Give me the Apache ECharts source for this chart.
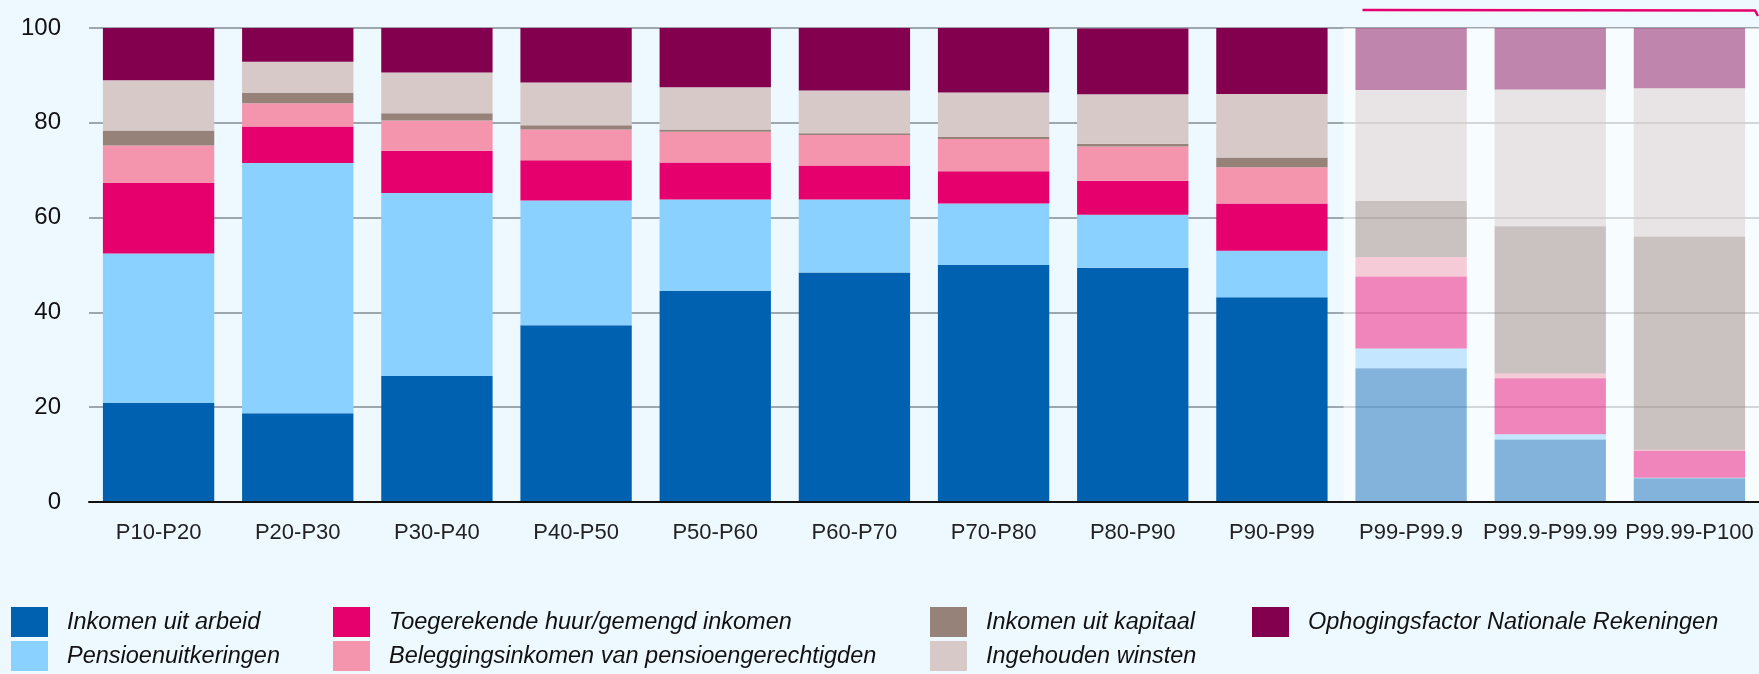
<!DOCTYPE html>
<html>
<head>
<meta charset="utf-8">
<script src="https://cdn.jsdelivr.net/npm/echarts@6/dist/echarts.min.js"></script>
<style>
  html, body { margin: 0; padding: 0; background: #eef8ff; }
  #chart { width: 1759px; height: 674px; }
</style>
</head>
<body>
<div id="chart"></div>
<script>
// categorieen (percentielgroepen)
var categories = ['P10-P20', 'P20-P30', 'P30-P40', 'P40-P50', 'P50-P60', 'P60-P70',
    'P70-P80', 'P80-P90', 'P90-P99', 'P99-P99.9', 'P99.9-P99.99', 'P99.99-P100'];

// aandelen in procenten, van onder naar boven gestapeld
var arbeid = [20.9, 18.7, 26.6, 37.3, 44.5, 48.4, 50.0, 49.4, 43.2, 28.2, 13.2, 5.0];
var pensioen = [31.5, 52.8, 38.6, 26.3, 19.3, 15.4, 13.0, 11.2, 9.8, 4.2, 1.1, 0.1];
var huur = [14.9, 7.7, 8.9, 8.5, 7.8, 7.2, 6.8, 7.2, 10.0, 15.2, 11.8, 5.7];
var belegging = [7.9, 4.9, 6.4, 6.5, 6.5, 6.4, 6.8, 7.2, 7.6, 4.1, 1.0, 0.2];
var kapitaal = [3.2, 2.2, 1.5, 0.9, 0.5, 0.4, 0.4, 0.6, 2.1, 11.8, 31.1, 45.0];
var winsten = [10.6, 6.6, 8.6, 9.0, 8.9, 9.0, 9.4, 10.4, 13.4, 23.4, 28.8, 31.3];
var ophoging = [11.0, 7.3, 9.5, 11.5, 12.6, 13.2, 13.7, 13.9, 13.9, 13.2, 13.0, 12.8];

var yTicks = [0, 20, 40, 60, 80, 100];

// de laatste drie groepen worden lichter getoond
var highlighted = ['P99-P99.9', 'P99.9-P99.99', 'P99.99-P100'];

var seriesDefs = [
    { name: 'Inkomen uit arbeid', data: arbeid, color: '#0061b0' },
    { name: 'Pensioenuitkeringen', data: pensioen, color: '#8bd1ff' },
    { name: 'Toegerekende huur/gemengd inkomen', data: huur, color: '#e6006e' },
    { name: 'Beleggingsinkomen van pensioengerechtigden', data: belegging, color: '#f495ad' },
    { name: 'Inkomen uit kapitaal', data: kapitaal, color: '#968279' },
    { name: 'Ingehouden winsten', data: winsten, color: '#d7c9c7' },
    { name: 'Ophogingsfactor Nationale Rekeningen', data: ophoging, color: '#82004e' }
];

var FONT = '"Liberation Sans", Arial, sans-serif';

var chart = echarts.init(document.getElementById('chart'), null, { renderer: 'canvas' });

var series = seriesDefs.map(function (s) {
    return {
        name: s.name,
        type: 'bar',
        stack: 'totaal',
        barCategoryGap: '20%',
        itemStyle: { color: s.color },
        emphasis: { disabled: true },
        data: s.data.map(function (v, i) {
            if (highlighted.indexOf(categories[i]) >= 0) {
                return { value: v, itemStyle: { opacity: 0.47 } };
            }
            return v;
        })
    };
});

function legendColumn(left, names) {
    return {
        orient: 'vertical',
        left: left,
        top: 607,
        padding: 0,
        height: 70,
        itemWidth: 37,
        itemHeight: 30,
        itemGap: 4,
        icon: 'rect',
        selectedMode: false,
        data: names,
        textStyle: {
            fontFamily: FONT,
            fontStyle: 'italic',
            fontSize: 23.5,
            color: '#111',
            padding: [5, 0, 0, 14]
        }
    };
}

var options = {
    backgroundColor: '#eef8ff',
    animation: false,
    grid: {
        left: 89,
        right: 0,
        top: 28,
        bottom: 172
    },
    legend: [
        legendColumn(11, [seriesDefs[0].name, seriesDefs[1].name]),
        legendColumn(333, [seriesDefs[2].name, seriesDefs[3].name]),
        legendColumn(930, [seriesDefs[4].name, seriesDefs[5].name]),
        legendColumn(1252, [seriesDefs[6].name])
    ],
    xAxis: {
        type: 'category',
        data: categories,
        axisLine: { lineStyle: { color: '#111', width: 2 } },
        axisTick: { alignWithLabel: true, length: 12, lineStyle: { color: '#777', width: 1.5 } },
        axisLabel: { interval: 0, margin: 20, fontFamily: FONT, fontSize: 22, color: '#222' },
        z: 5
    },
    yAxis: {
        type: 'value',
        min: yTicks[0],
        max: yTicks[yTicks.length - 1],
        interval: yTicks[1] - yTicks[0],
        axisLine: { show: false },
        axisTick: { show: false },
        splitLine: { lineStyle: { color: '#838d92', width: 1.5 } },
        axisLabel: { margin: 28, fontFamily: FONT, fontSize: 24, color: '#111' }
    },
    series: series
};

chart.setOption(options);

// lichtere achtergrond achter de top-groepen en de roze markering erboven
var c0 = chart.convertToPixel({ xAxisIndex: 0 }, highlighted[0]);
var c1 = chart.convertToPixel({ xAxisIndex: 0 }, categories[categories.indexOf(highlighted[0]) + 1]);
var band = c1 - c0;
var yTop = chart.convertToPixel({ yAxisIndex: 0 }, 100);
var yBottom = chart.convertToPixel({ yAxisIndex: 0 }, 0);
var xStart = c0 - band / 2;

chart.setOption({
    graphic: [
        {
            type: 'rect',
            z: 1,
            silent: true,
            shape: { x: xStart + 2, y: yTop, width: 1759 - xStart, height: yBottom - yTop },
            style: { fill: 'rgba(255,255,255,0.55)' }
        },
        {
            type: 'polyline',
            z: 10,
            silent: true,
            shape: { points: [[xStart + 21, 10], [1755, 10.5], [1758, 16]] },
            style: { stroke: '#e6006e', lineWidth: 2.5, fill: null }
        }
    ]
});
</script>
</body>
</html>
